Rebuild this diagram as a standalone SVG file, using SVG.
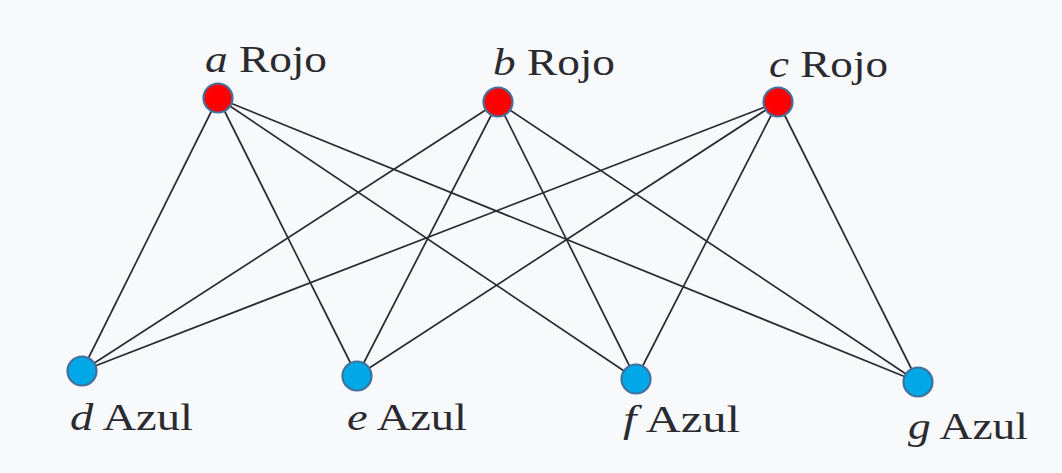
<svg xmlns="http://www.w3.org/2000/svg" width="1062" height="473" viewBox="0 0 1062 473">
  <style>
    .edge { stroke: #2a2a30; stroke-width: 1.7; fill: none; }
    .rojo { fill: #ff0000; stroke: #41719c; stroke-width: 2.2; }
    .azul { fill: #00a8e8; stroke: #41719c; stroke-width: 2.2; }
    .lbl { font-family: "Liberation Serif", "DejaVu Serif", serif; font-size: 37px; fill: #2a2a30; }
    .it { font-style: italic; }
  </style>
  <rect width="1062" height="473" fill="#f8f9fb"/>

  <!-- every red vertex joins every blue vertex -->
  <g id="edges">
    <line class="edge" x1="218" y1="98" x2="82" y2="371"/>
    <line class="edge" x1="218" y1="98" x2="357" y2="376"/>
    <line class="edge" x1="218" y1="98" x2="636" y2="379"/>
    <line class="edge" x1="218" y1="98" x2="918" y2="382"/>
    <line class="edge" x1="498" y1="102" x2="82" y2="371"/>
    <line class="edge" x1="498" y1="102" x2="357" y2="376"/>
    <line class="edge" x1="498" y1="102" x2="636" y2="379"/>
    <line class="edge" x1="498" y1="102" x2="918" y2="382"/>
    <line class="edge" x1="778" y1="102" x2="82" y2="371"/>
    <line class="edge" x1="778" y1="102" x2="357" y2="376"/>
    <line class="edge" x1="778" y1="102" x2="636" y2="379"/>
    <line class="edge" x1="778" y1="102" x2="918" y2="382"/>
  </g>

  <g id="node-a">
    <circle class="rojo" cx="218" cy="98" r="14.5"/>
    <text class="lbl" x="205" y="72" textLength="122" lengthAdjust="spacingAndGlyphs"><tspan class="it">a</tspan> Rojo</text>
  </g>
  <g id="node-b">
    <circle class="rojo" cx="498" cy="102" r="14.5"/>
    <text class="lbl" x="493" y="75" textLength="122" lengthAdjust="spacingAndGlyphs"><tspan class="it">b</tspan> Rojo</text>
  </g>
  <g id="node-c">
    <circle class="rojo" cx="778" cy="102" r="14.5"/>
    <text class="lbl" x="769" y="77" textLength="119" lengthAdjust="spacingAndGlyphs"><tspan class="it">c</tspan> Rojo</text>
  </g>
  <g id="node-d">
    <circle class="azul" cx="82" cy="371" r="14.5"/>
    <text class="lbl" x="70" y="430" textLength="123" lengthAdjust="spacingAndGlyphs"><tspan class="it">d</tspan> Azul</text>
  </g>
  <g id="node-e">
    <circle class="azul" cx="357" cy="376" r="14.5"/>
    <text class="lbl" x="347" y="430" textLength="120" lengthAdjust="spacingAndGlyphs"><tspan class="it">e</tspan> Azul</text>
  </g>
  <g id="node-f">
    <circle class="azul" cx="636" cy="379" r="14.5"/>
    <text class="lbl" x="623" y="432" textLength="117" lengthAdjust="spacingAndGlyphs"><tspan class="it">f</tspan> Azul</text>
  </g>
  <g id="node-g">
    <circle class="azul" cx="918" cy="382" r="14.5"/>
    <text class="lbl" x="908" y="439" textLength="120" lengthAdjust="spacingAndGlyphs"><tspan class="it">g</tspan> Azul</text>
  </g>
</svg>
